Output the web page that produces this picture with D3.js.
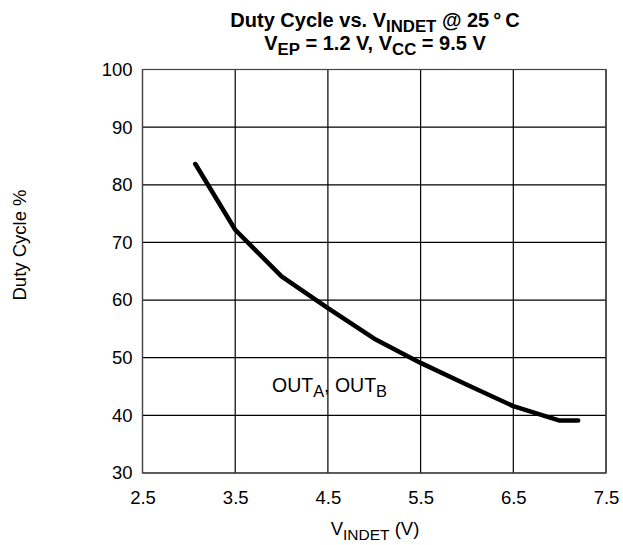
<!DOCTYPE html>
<html><head><meta charset="utf-8">
<script src="https://cdn.jsdelivr.net/npm/d3@7"></script>
<style>body{margin:0;background:#fff}</style>
</head><body>
<svg id="c" width="623" height="545"></svg>
<script>
const vindet = [3.07, 3.5, 4.0, 4.5, 5.0, 5.5, 6.0, 6.5, 7.0, 7.2];
const duty = [83.6, 72.2, 64.1, 58.6, 53.3, 49.1, 45.3, 41.6, 39.1, 39.1];
const xTicks = [2.5, 3.5, 4.5, 5.5, 6.5, 7.5];
const yTicks = [30, 40, 50, 60, 70, 80, 90, 100];

const svg = d3.select("#c");
const font = "Liberation Sans, Arial, sans-serif";
const x = d3.scaleLinear().domain([2.5, 7.5]).range([142.5, 606]);
const y = d3.scaleLinear().domain([30, 100]).range([473, 69.5]);

// grid
const g = svg.append("g");
g.selectAll("line.v").data(xTicks).enter().append("line")
  .attr("x1", d => x(d)).attr("x2", d => x(d)).attr("y1", y(30)).attr("y2", y(100))
  .attr("stroke", "#000").attr("stroke-width", 1.2);
g.selectAll("line.h").data(yTicks).enter().append("line")
  .attr("x1", x(2.5)).attr("x2", x(7.5)).attr("y1", d => y(d)).attr("y2", d => y(d))
  .attr("stroke", "#000").attr("stroke-width", 1.2);
g.append("rect").attr("x", x(2.5)).attr("y", y(100)).attr("width", x(7.5) - x(2.5)).attr("height", y(30) - y(100))
  .attr("fill", "none").attr("stroke", "#444").attr("stroke-width", 1.2);

// axes labels via d3 axes
const xAxis = svg.append("g").attr("transform", `translate(0,${y(30)})`)
  .call(d3.axisBottom(x).tickValues(xTicks).tickFormat(d3.format(".1f")).tickSize(0).tickPadding(18));
xAxis.select(".domain").remove();
xAxis.selectAll("text").attr("font-family", font).attr("font-size", 18.5).attr("fill", "#000");

const yAxis = svg.append("g").attr("transform", `translate(${x(2.5)},0)`)
  .call(d3.axisLeft(y).tickValues(yTicks).tickFormat(d3.format("d")).tickSize(0).tickPadding(10));
yAxis.select(".domain").remove();
yAxis.selectAll("text").attr("font-family", font).attr("font-size", 18.5).attr("fill", "#000");

// curve
const line = d3.line().x((d, i) => x(vindet[i])).y(d => y(d));
svg.append("path").datum(duty).attr("d", line).attr("fill", "none")
  .attr("stroke", "#000").attr("stroke-width", 4.5).attr("stroke-linecap", "round").attr("stroke-linejoin", "round");

function sub(t, parts) {
  let shifted = false;
  parts.forEach(p => {
    const ts = t.append("tspan").text(p.t);
    if (p.s) { ts.attr("font-size", "0.84em").attr("dy", 5); shifted = true; }
    else if (shifted) { ts.attr("dy", -5); shifted = false; }
  });
}

// title
const t1 = svg.append("text").attr("x", 375).attr("y", 27).attr("text-anchor", "middle")
  .attr("font-family", font).attr("font-weight", "bold").attr("font-size", 20);
sub(t1, [{t: "Duty Cycle vs. V"}, {t: "INDET", s: 1}, {t: " @ 25\u2009\u00B0\u2009C"}]);
const t2 = svg.append("text").attr("x", 375).attr("y", 50).attr("text-anchor", "middle")
  .attr("font-family", font).attr("font-weight", "bold").attr("font-size", 20);
sub(t2, [{t: "V"}, {t: "EP", s: 1}, {t: " = 1.2 V, V"}, {t: "CC", s: 1}, {t: " = 9.5 V"}]);

// x title
const xt = svg.append("text").attr("x", 375).attr("y", 535).attr("text-anchor", "middle")
  .attr("font-family", font).attr("font-size", 18.5);
sub(xt, [{t: "V"}, {t: "INDET", s: 1}, {t: " (V)"}]);

// y title
svg.append("text").attr("transform", "translate(25.5,245) rotate(-90)").attr("text-anchor", "middle")
  .attr("font-family", font).attr("font-size", 18.5).text("Duty Cycle %");

// annotation
const an = svg.append("text").attr("x", 272).attr("y", 392)
  .attr("font-family", font).attr("font-size", 19.5);
sub(an, [{t: "OUT"}, {t: "A", s: 1}, {t: ", OUT"}, {t: "B", s: 1}]);
</script>
</body></html>
